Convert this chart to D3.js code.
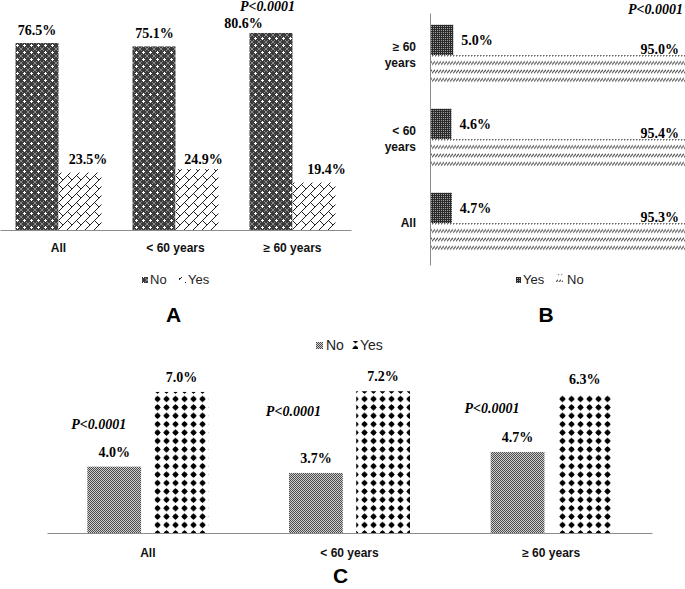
<!DOCTYPE html>
<html><head><meta charset="utf-8">
<script src="https://cdn.jsdelivr.net/npm/d3@7"></script>
<style>body{margin:0;background:#fff}</style>
</head><body>
<svg id="chart" width="685" height="589"></svg>
<script>
// ---------- DATA ----------
const categories = ["All", "< 60 years", "≥ 60 years"];
// Panel A
const seriesA = ["No", "Yes"];
const aNo = [76.5, 75.1, 80.6];
const aYes = [23.5, 24.9, 19.4];
// Panel B
const seriesB = ["Yes", "No"];
const bYes = [4.7, 4.6, 5.0];
const bNo = [95.3, 95.4, 95.0];
// Panel C
const seriesC = ["No", "Yes"];
const cNo = [4.0, 3.7, 4.7];
const cYes = [7.0, 7.2, 6.3];
const pText = "P<0.0001";
const panelTitles = ["A", "B", "C"];

// ---------- LAYOUT HELPERS (not data) ----------
const labelShiftANo = [[0, -8], [0.5, -8], [-27.5, -5]];
const labelShiftAYes = [[8, -9], [6.5, -5], [12.5, -9]];
const pShiftC = [[-15.5, -38], [-22.5, -57], [-25.5, -39]];

const serif = "'Liberation Serif','Times New Roman',serif";
const sans = "'Liberation Sans',Arial,sans-serif";

const svg = d3.select("#chart");
svg.append("rect").attr("width", 685).attr("height", 589).attr("fill", "#fff");
const defs = svg.append("defs");
function pat(id, w, h, draw) {
  const p = defs.append("pattern").attr("id", id).attr("patternUnits", "userSpaceOnUse")
    .attr("width", w).attr("height", h);
  draw(p);
}
function px(p, pts, color) {
  pts.forEach(([x, y]) => p.append("rect").attr("x", x).attr("y", y).attr("width", 1).attr("height", 1).attr("fill", color));
}
// A "No": dark with white crosses
pat("pANo", 7, 7, p => {
  p.append("rect").attr("width", 7).attr("height", 7).attr("fill", "#3c3c3c");
  px(p, [[3, 2], [2, 3], [3, 3], [4, 3], [3, 4]], "#fff");
  px(p, [[0, 0], [6, 6], [0, 6], [6, 0], [1, 1], [5, 5], [1, 5], [5, 1]], "#8a8a8a");
});
// A "Yes": shingle lines
pat("pAYes", 9, 9, p => {
  p.append("rect").attr("width", 9).attr("height", 9).attr("fill", "#fff");
  p.append("path").attr("d", "M0,9 L9,0 M4.5,4.5 L9,9 M-1,1 L1,-1").attr("stroke", "#222").attr("stroke-width", 1).attr("fill", "none");
});
// B "Yes": dark fine texture
pat("pBYes", 2, 2, p => {
  p.append("rect").attr("width", 2).attr("height", 2).attr("fill", "#2b2b2b");
  px(p, [[1, 0]], "#a0a0a0");
});
// B "No": rows of short slashes
pat("pBNo", 3, 8.4, p => {
  p.append("rect").attr("width", 3).attr("height", 8.4).attr("fill", "#fff");
  p.append("path").attr("d", "M0,6 L3,2.5").attr("stroke", "#555").attr("stroke-width", 1.2).attr("fill", "none");
});
// C "No": gray checker
pat("pCNo", 2, 2, p => {
  p.append("rect").attr("width", 2).attr("height", 2).attr("fill", "#cfcfcf");
  px(p, [[0, 0], [1, 1]], "#4a4a4a");
});
// C "Yes": black diamonds
pat("pCYes", 9, 8.4, p => {
  p.append("rect").attr("width", 9).attr("height", 8.4).attr("fill", "#fff");
  p.append("path").attr("d", "M4.5,0.9 L7.8,4.2 L4.5,7.5 L1.2,4.2Z").attr("fill", "#000");
  p.append("circle").attr("cx", 4.5).attr("cy", 4.2).attr("r", 2.3).attr("fill", "#000");
});

const fillA = { No: "url(#pANo)", Yes: "url(#pAYes)" };
const fillB = { Yes: "url(#pBYes)", No: "url(#pBNo)" };
const fillC = { No: "url(#pCNo)", Yes: "url(#pCYes)" };

// ================= PANEL A =================
const gA = svg.append("g");
const xA = d3.scaleBand().domain(categories).range([0, 351]).paddingInner(0.265).paddingOuter(0.1325);
const xA1 = d3.scaleBand().domain(seriesA).range([0, xA.bandwidth()]);
const yA = d3.scaleLinear().domain([0, 90]).range([230, 10]);
const dataA = categories.flatMap((c, i) => [
  { c, s: "No", v: aNo[i], sh: labelShiftANo[i] },
  { c, s: "Yes", v: aYes[i], sh: labelShiftAYes[i] }
]);
gA.selectAll("rect.bar").data(dataA).join("rect").attr("class", "bar")
  .attr("x", d => xA(d.c) + xA1(d.s)).attr("width", xA1.bandwidth())
  .attr("y", d => yA(d.v)).attr("height", d => yA(0) - yA(d.v))
  .attr("fill", d => fillA[d.s]);
gA.selectAll("text.val").data(dataA).join("text").attr("class", "val")
  .attr("x", d => xA(d.c) + xA1(d.s) + xA1.bandwidth() / 2 + d.sh[0])
  .attr("y", d => yA(d.v) + d.sh[1])
  .attr("text-anchor", "middle").attr("font-family", serif).attr("font-weight", "bold").attr("font-size", 14)
  .text(d => d.v.toFixed(1) + "%");
const axA = gA.append("g").attr("transform", "translate(0,230)")
  .call(d3.axisBottom(xA).tickSize(0).tickSizeOuter(0).tickPadding(13.5));
axA.select(".domain").attr("stroke", "#8c8c8c");
axA.selectAll("text").attr("font-family", sans).attr("font-weight", "bold").attr("font-size", 12).attr("fill", "#111");
gA.append("text").attr("x", xA(categories[2]) + xA.bandwidth() / 2 - 25).attr("y", 11)
  .attr("text-anchor", "middle").attr("font-family", serif).attr("font-weight", "bold").attr("font-style", "italic")
  .attr("font-size", 14).text(pText);
// legend A
const legA = gA.append("g");
legA.append("rect").attr("x", 142).attr("y", 277).attr("width", 6).attr("height", 6).attr("fill", fillA.No);
legA.append("text").attr("x", 150).attr("y", 284).text(seriesA[0]);
legA.append("rect").attr("x", 179).attr("y", 277).attr("width", 7).attr("height", 6).attr("fill", fillA.Yes);
legA.append("text").attr("x", 188).attr("y", 284).text(seriesA[1]);
legA.selectAll("text").attr("font-family", sans).attr("font-size", 13).attr("fill", "#222");
gA.append("text").attr("x", 173.5).attr("y", 322).attr("text-anchor", "middle")
  .attr("font-family", sans).attr("font-weight", "bold").attr("font-size", 21).text(panelTitles[0]);

// ================= PANEL B =================
const gB = svg.append("g");
const yB = d3.scaleBand().domain(categories.slice().reverse()).range([13, 265]).paddingInner(0.28).paddingOuter(0.14);
const yB1 = d3.scaleBand().domain(seriesB).range([0, yB.bandwidth()]);
const xB = d3.scaleLinear().domain([0, 100]).range([430, 895]);
const dataB = categories.flatMap((c, i) => [
  { c, s: "Yes", v: bYes[i] },
  { c, s: "No", v: bNo[i] }
]);
gB.selectAll("rect.bar").data(dataB).join("rect").attr("class", "bar")
  .attr("x", xB(0)).attr("width", d => xB(d.v) - xB(0))
  .attr("y", d => yB(d.c) + yB1(d.s)).attr("height", yB1.bandwidth())
  .attr("fill", d => fillB[d.s]);
gB.selectAll("text.val").data(dataB).join("text").attr("class", "val")
  .attr("x", d => d.s === "Yes" ? xB(d.v) + 8 : 679)
  .attr("y", d => d.s === "Yes" ? yB(d.c) + yB1(d.s) + yB1.bandwidth() / 2 + 5 : yB(d.c) + yB1(d.s) - 1)
  .attr("text-anchor", d => d.s === "Yes" ? "start" : "end")
  .attr("font-family", serif).attr("font-weight", "bold").attr("font-size", 14)
  .text(d => d.v.toFixed(1) + "%");
const axB = gB.append("g").attr("transform", "translate(430,0)")
  .call(d3.axisLeft(yB).tickSize(0).tickSizeOuter(0).tickPadding(14));
axB.select(".domain").attr("stroke", "#8c8c8c");
axB.selectAll(".tick text").each(function (d) {
  const t = d3.select(this);
  const parts = d === "All" ? ["All"] : [d.replace(" years", ""), "years"];
  t.text(null).attr("dy", null).attr("y", null);
  parts.forEach((p, k) => {
    t.append("tspan").attr("x", -14).attr("y", 4 + (k - (parts.length - 1) / 2) * 15.5).text(p);
  });
}).attr("font-family", sans).attr("font-weight", "bold").attr("font-size", 12).attr("fill", "#111");
gB.append("text").attr("x", 683).attr("y", 14).attr("text-anchor", "end")
  .attr("font-family", serif).attr("font-weight", "bold").attr("font-style", "italic")
  .attr("font-size", 14).text(pText);
const legB = gB.append("g");
legB.append("rect").attr("x", 516).attr("y", 277).attr("width", 5).attr("height", 6).attr("fill", fillB.Yes);
legB.append("text").attr("x", 523).attr("y", 284).text(seriesB[0]);
legB.append("rect").attr("x", 556).attr("y", 274).attr("width", 7).attr("height", 8).attr("fill", fillB.No);
legB.append("text").attr("x", 567).attr("y", 284).text(seriesB[1]);
legB.selectAll("text").attr("font-family", sans).attr("font-size", 13).attr("fill", "#222");
gB.append("text").attr("x", 546).attr("y", 322).attr("text-anchor", "middle")
  .attr("font-family", sans).attr("font-weight", "bold").attr("font-size", 21).text(panelTitles[1]);

// ================= PANEL C =================
const gC = svg.append("g");
const xC = d3.scaleBand().domain(categories).range([47, 652]).paddingInner(0.4).paddingOuter(0.2);
const xC1 = d3.scaleBand().domain(seriesC).range([0, xC.bandwidth()]).paddingInner(0.2);
const yC = {
  No: d3.scaleLinear().domain([0.84, 4.7]).range([533, 533 - 21 * (4.7 - 0.84)]),
  Yes: d3.scaleLinear().domain([-33.3, 7.2]).range([533, 533 - 3.5 * 40.5])
};
const dataC = categories.flatMap((c, i) => [
  { c, i, s: "No", v: cNo[i] },
  { c, i, s: "Yes", v: cYes[i] }
]);
gC.selectAll("rect.bar").data(dataC).join("rect").attr("class", "bar")
  .attr("x", d => xC(d.c) + xC1(d.s)).attr("width", xC1.bandwidth())
  .attr("y", d => yC[d.s](d.v)).attr("height", d => 533 - yC[d.s](d.v))
  .attr("fill", d => fillC[d.s]);
gC.selectAll("text.val").data(dataC).join("text").attr("class", "val")
  .attr("x", d => xC(d.c) + xC1(d.s) + xC1.bandwidth() / 2)
  .attr("y", d => yC[d.s](d.v) - 10)
  .attr("text-anchor", "middle").attr("font-family", serif).attr("font-weight", "bold").attr("font-size", 14)
  .text(d => d.v.toFixed(1) + "%");
gC.selectAll("text.p").data(dataC.filter(d => d.s === "No")).join("text").attr("class", "p")
  .attr("x", d => xC(d.c) + xC1("No") + xC1.bandwidth() / 2 + pShiftC[d.i][0])
  .attr("y", d => yC.No(d.v) + pShiftC[d.i][1])
  .attr("text-anchor", "middle").attr("font-family", serif).attr("font-weight", "bold").attr("font-style", "italic")
  .attr("font-size", 14).text(pText);
const axC = gC.append("g").attr("transform", "translate(0,533)")
  .call(d3.axisBottom(xC).tickSize(0).tickSizeOuter(0).tickPadding(15.5));
axC.select(".domain").attr("stroke", "#8c8c8c");
axC.selectAll("text").attr("font-family", sans).attr("font-weight", "bold").attr("font-size", 12).attr("fill", "#111");
const legC = gC.append("g");
legC.append("rect").attr("x", 316).attr("y", 342).attr("width", 7).attr("height", 7).attr("fill", fillC.No);
legC.append("text").attr("x", 326).attr("y", 350).text(seriesC[0]);
legC.append("rect").attr("x", 351).attr("y", 341).attr("width", 7).attr("height", 8).attr("fill", fillC.Yes);
legC.append("text").attr("x", 360).attr("y", 350).text(seriesC[1]);
legC.selectAll("text").attr("font-family", sans).attr("font-size", 14).attr("fill", "#222");
gC.append("text").attr("x", 340.5).attr("y", 583).attr("text-anchor", "middle")
  .attr("font-family", sans).attr("font-weight", "bold").attr("font-size", 21).text(panelTitles[2]);
</script>
</body></html>
